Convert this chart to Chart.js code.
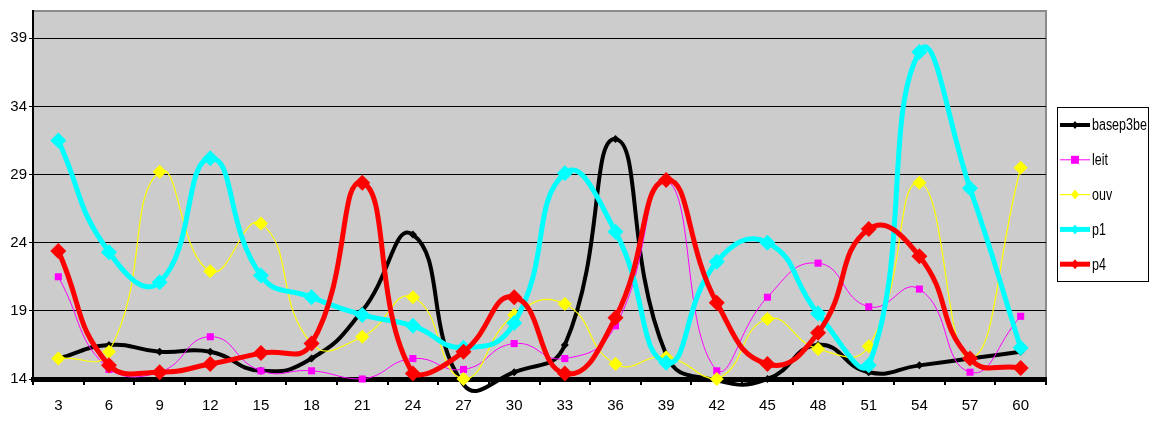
<!DOCTYPE html>
<html>
<head>
<meta charset="utf-8">
<script src="https://cdn.jsdelivr.net/npm/chart.js@4/dist/chart.umd.min.js"></script>
<style>
  html, body { margin: 0; padding: 0; background: #fff; }
  #wrap { width: 1152px; height: 421px; position: relative; }
</style>
</head>
<body>
<div id="wrap"><canvas id="c"></canvas></div>
<script>
// chart data
const categories = ['3','6','9','12','15','18','21','24','27','30','33','36','39','42','45','48','51','54','57','60'];
const yTicks = [14, 19, 24, 29, 34, 39];

const basep3be = [15.5, 16.5, 16.0, 16.0, 14.6, 15.5, 19.0, 24.6, 13.6, 14.5, 16.5, 31.6, 15.8, 13.9, 14.0, 16.5, 14.5, 15.0, 15.5, 16.0];
const leit     = [21.5, 14.7, 14.5, 17.1, 14.6, 14.6, 14.0, 15.5, 14.7, 16.6, 15.5, 17.9, 28.6, 14.6, 20.0, 22.5, 19.3, 20.6, 14.5, 18.6];
const ouv      = [15.5, 16.0, 29.2, 21.9, 25.4, 16.6, 17.1, 20.0, 14.0, 18.7, 19.5, 15.1, 15.6, 14.0, 18.4, 16.2, 16.4, 28.4, 15.5, 29.5];
const p1       = [31.5, 23.3, 21.1, 30.2, 21.6, 20.0, 18.7, 17.9, 16.3, 18.1, 29.1, 24.8, 15.2, 22.6, 24.0, 18.8, 15.0, 38.0, 28.0, 16.3];
const p4       = [23.4, 15.0, 14.5, 15.1, 15.9, 16.6, 28.4, 14.4, 16.0, 20.0, 14.4, 18.5, 28.6, 19.6, 15.1, 17.4, 25.0, 23.0, 15.5, 14.8];

const FONT = "'Liberation Sans Narrow', 'Liberation Sans', Arial, sans-serif";

function series(label, data, color, width, style, radius, order) {
  return {
    label, data, order,
    borderColor: color, backgroundColor: color,
    borderWidth: width,
    pointStyle: style, pointRadius: radius, pointHoverRadius: radius,
    pointBorderWidth: 0,
    tension: 0.5,
    clip: false
  };
}

const datasets = [
  series('basep3be', basep3be, '#000000', 4, 'rectRot', 4, 5),
  series('leit', leit, '#ff00ff', 1, 'rect', 5, 4),
  series('ouv', ouv, '#ffff00', 1.2, 'rectRot', 7, 3),
  series('p1', p1, '#00ffff', 5, 'rectRot', 8, 2),
  series('p4', p4, '#ff0000', 5, 'rectRot', 8, 1)
];

// grey plot area with light frame on top/right
const plotBg = {
  id: 'plotBg',
  beforeDraw(chart) {
    const { ctx, chartArea: a } = chart;
    ctx.save();
    ctx.fillStyle = '#cccccc';
    ctx.fillRect(a.left, a.top, a.right - a.left, a.bottom - a.top);
    ctx.strokeStyle = '#8c8c8c';
    ctx.lineWidth = 2;
    ctx.beginPath();
    ctx.moveTo(a.left, a.top);
    ctx.lineTo(a.right, a.top);
    ctx.lineTo(a.right, a.bottom);
    ctx.stroke();
    ctx.restore();
  }
};

// excel-style legend box on the right
const boxLegend = {
  id: 'boxLegend',
  afterDraw(chart) {
    const { ctx } = chart;
    const x0 = 1057, y0 = 107, w = 91, h = 174;
    ctx.save();
    ctx.fillStyle = '#ffffff';
    ctx.fillRect(x0, y0, w, h);
    ctx.strokeStyle = '#000000';
    ctx.lineWidth = 1;
    ctx.strokeRect(x0 + 0.5, y0 + 0.5, w, h);
    ctx.font = '16px ' + FONT;
    ctx.textBaseline = 'middle';
    chart.data.datasets.forEach((ds, i) => {
      const y = y0 + 18 + i * 34.8;
      ctx.strokeStyle = ds.borderColor;
      ctx.lineWidth = ds.borderWidth;
      ctx.beginPath();
      ctx.moveTo(x0 + 3, y);
      ctx.lineTo(x0 + 33, y);
      ctx.stroke();
      ctx.fillStyle = ds.borderColor;
      const r = Math.min(ds.pointRadius, 5);
      ctx.beginPath();
      if (ds.pointStyle === 'rect') {
        ctx.rect(x0 + 18 - r * 0.8, y - r * 0.8, r * 1.6, r * 1.6);
      } else {
        ctx.moveTo(x0 + 18, y - r);
        ctx.lineTo(x0 + 18 + r * 0.8, y);
        ctx.lineTo(x0 + 18, y + r);
        ctx.lineTo(x0 + 18 - r * 0.8, y);
        ctx.closePath();
      }
      ctx.fill();
      // condensed text like the original
      ctx.save();
      ctx.translate(x0 + 35, y + 1);
      ctx.scale(0.78, 1);
      ctx.fillStyle = '#000000';
      ctx.fillText(ds.label, 0, 0);
      ctx.restore();
    });
    ctx.restore();
  }
};

new Chart(document.getElementById('c').getContext('2d'), {
  type: 'line',
  data: { labels: categories, datasets },
  options: {
    responsive: true,
    maintainAspectRatio: false,
    animation: false,
    layout: { padding: { top: 9, right: 106, left: 0, bottom: 0 } },
    plugins: { legend: { display: false }, tooltip: { enabled: false } },
    scales: {
      x: {
        offset: true,
        grid: { display: true, drawOnChartArea: false, offset: true, color: '#000000', lineWidth: 2, tickLength: 6 },
        border: { display: true, color: '#000000', width: 5 },
        ticks: { color: '#000000', padding: 12, font: { family: FONT, size: 15 }, maxRotation: 0, autoSkip: false },
        afterFit(scale) { scale.height = 42; }
      },
      y: {
        min: 14, max: 41,
        grid: { color: '#000000', lineWidth: 1, tickLength: 4, drawTicks: true },
        border: { display: true, color: '#000000', width: 2 },
        ticks: { color: '#000000', padding: 2, font: { family: FONT, size: 15 } },
        afterBuildTicks(scale) { scale.ticks = yTicks.map(v => ({ value: v })); },
        afterFit(scale) { scale.width = 33; }
      }
    }
  },
  plugins: [plotBg, boxLegend]
});
</script>
</body>
</html>
